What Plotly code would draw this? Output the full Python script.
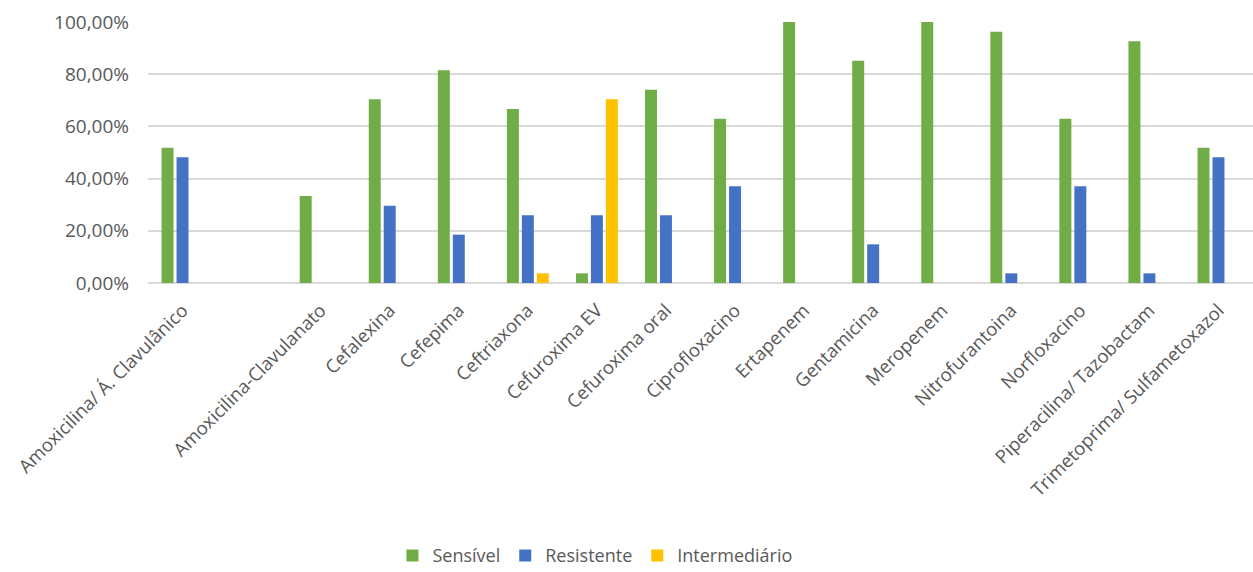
import plotly.graph_objects as go

categories = ["Amoxicilina/ Á. Clavulânico", " ", "Amoxicilina-Clavulanato", "Cefalexina", "Cefepima",
              "Ceftriaxona", "Cefuroxima EV", "Cefuroxima oral", "Ciprofloxacino", "Ertapenem",
              "Gentamicina", "Meropenem", "Nitrofurantoina", "Norfloxacino",
              "Piperacilina/ Tazobactam", "Trimetoprima/ Sulfametoxazol"]
sensivel = [0.5185, None, 0.3333, 0.7037, 0.8148, 0.6667, 0.0370, 0.7407, 0.6296, 1.0,
            0.8519, 1.0, 0.9630, 0.6296, 0.9259, 0.5185]
resistente = [0.4815, None, None, 0.2963, 0.1852, 0.2593, 0.2593, 0.2593, 0.3704, None,
              0.1481, None, 0.0370, 0.3704, 0.0370, 0.4815]
intermediario = [None, None, None, None, None, 0.0370, 0.7037, None, None, None,
                 None, None, None, None, None, None]

series = [("Sensível", sensivel, "#70AD47"),
          ("Resistente", resistente, "#4472C4"),
          ("Intermediário", intermediario, "#FFC000")]

fig = go.Figure()
for name, vals, col in series:
    fig.add_trace(go.Bar(x=categories, y=vals, name=name, marker_color=col,
                         marker_line_width=0))

fig.update_layout(
    width=1253, height=572,
    margin=dict(l=148, r=0, t=22, b=289, autoexpand=False),
    plot_bgcolor="white", paper_bgcolor="white",
    barmode="group", bargap=0.35, bargroupgap=0.2,
    separators=",.",
    font=dict(family="Open Sans", size=16, color="#595959"),
    legend=dict(orientation="h", x=0.4045, xanchor="center", y=-1.045, yanchor="middle",
                font=dict(size=18, color="#595959"), itemwidth=30, traceorder="normal"),
    xaxis=dict(tickangle=-45, showgrid=False, showline=False, ticks="",
               tickfont=dict(size=18.5, color="#595959"), automargin=False,
               ticklabelstandoff=12),
    yaxis=dict(range=[0, 1.0], tickvals=[0, 0.2, 0.4, 0.6, 0.8, 1.0], tickformat=".2%",
               showgrid=True, gridcolor="#D9D9D9", gridwidth=1.5,
               zeroline=True, zerolinecolor="#D9D9D9", zerolinewidth=1.5,
               tickfont=dict(size=19, color="#595959"), ticks="",
               automargin=False, showline=False, ticklabelstandoff=18),
)

fig.write_html("out.html")
